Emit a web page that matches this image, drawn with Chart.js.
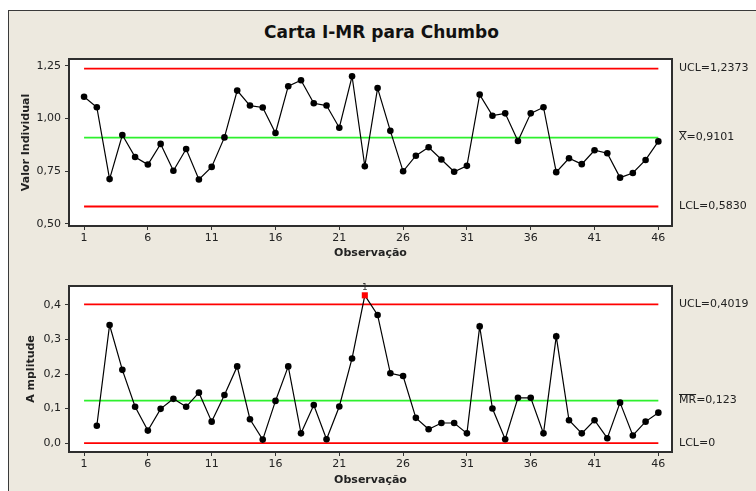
<!DOCTYPE html>
<html>
<head>
<meta charset="utf-8">
<script src="https://cdn.jsdelivr.net/npm/chart.js@4/dist/chart.umd.min.js"></script>
<style>
  html, body { margin: 0; padding: 0; background: #fff; width: 756px; height: 491px; overflow: hidden; }
  #moldura { position: absolute; left: 8px; top: 10px; right: 0; bottom: 0;
             background: rgb(237, 233, 223); border-top: 1px solid #3a3a3a; border-left: 1px solid #3a3a3a; }
  #titulo { position: absolute; left: 0; top: 22px; width: 763px; text-align: center;
            font: bold 17px "DejaVu Sans"; line-height: 20px; color: #111; }
  canvas { position: absolute; left: 0; }
</style>
</head>
<body>
<div id="moldura"></div>
<div id="titulo">Carta I-MR para Chumbo</div>
<canvas id="cartaI" width="756" height="262" style="top:0"></canvas>
<canvas id="cartaMR" width="756" height="229" style="top:262px"></canvas>
<script>
// Observações (teor de chumbo) e amplitudes móveis
const observacoes = Array.from({ length: 46 }, (_, i) => i + 1);

const valorIndividual = [
  1.104, 1.054, 0.713, 0.922, 0.818, 0.782, 0.880, 0.753, 0.856, 0.711,
  0.771, 0.911, 1.133, 1.062, 1.053, 0.932, 1.154, 1.182, 1.073, 1.062,
  0.957, 1.201, 0.774, 1.145, 0.942, 0.750, 0.824, 0.864, 0.806, 0.748,
  0.776, 1.114, 1.014, 1.025, 0.894, 1.025, 1.054, 0.746, 0.812, 0.784,
  0.850, 0.836, 0.720, 0.742, 0.804, 0.892
];

const amplitudeMovel = [
  null, 0.050, 0.342, 0.212, 0.105, 0.036, 0.099, 0.128, 0.105, 0.146,
  0.062, 0.139, 0.222, 0.069, 0.010, 0.122, 0.222, 0.028, 0.110, 0.011,
  0.106, 0.245, 0.428, 0.371, 0.202, 0.194, 0.073, 0.040, 0.058, 0.058,
  0.028, 0.338, 0.100, 0.011, 0.131, 0.131, 0.028, 0.309, 0.066, 0.028,
  0.066, 0.014, 0.117, 0.022, 0.062, 0.088
];

// Limites de controle: [UCL, linha central, LCL]
const limitesI = [1.2373, 0.9101, 0.5830];
const casasI = [4, 4, 4];
const limitesMR = [0.4019, 0.123, 0];
const casasMR = [4, 3, 0];

// Observações que falharam no teste 1
const pontosFora = [23];
const testeFalhou = ['1'];

// Marcas dos eixos
const ticksX = [1, 6, 11, 16, 21, 26, 31, 36, 41, 46];
const ticksI = [0.50, 0.75, 1.00, 1.25];
const rotulosI = ['0,50', '0,75', '1,00', '1,25'];
const ticksMR = [0, 0.1, 0.2, 0.3, 0.4];
const rotulosMR = ['0,0', '0,1', '0,2', '0,3', '0,4'];

const FONTE = '"DejaVu Sans"';
const COR_TEXTO = '#222';
const VERMELHO = 'rgb(255, 0, 0)';
const VERDE = 'rgb(45, 240, 45)';

const fmt = (v, casas) => v.toFixed(casas).replace('.', ',');

function linhaLimite(valor, cor) {
  return {
    data: [{ x: observacoes[0], y: valor }, { x: observacoes[observacoes.length - 1], y: valor }],
    borderColor: cor, borderWidth: 1.8, pointRadius: 0, tension: 0, order: 1
  };
}

// Moldura branca da área de plotagem, rótulos dos limites e marcas de teste
function pluginCarta(rotulos, marcas) {
  return {
    id: 'carta',
    beforeDraw(chart) {
      const a = chart.chartArea, ctx = chart.ctx;
      ctx.save();
      ctx.fillStyle = '#fff';
      ctx.fillRect(a.left, a.top, a.right - a.left, a.bottom - a.top);
      ctx.restore();
    },
    afterDraw(chart) {
      const a = chart.chartArea, ctx = chart.ctx, ys = chart.scales.y, xs = chart.scales.x;
      ctx.save();
      ctx.strokeStyle = '#2e2e2e';
      ctx.lineWidth = 2;
      ctx.strokeRect(a.left, a.top, a.right - a.left, a.bottom - a.top);

      ctx.font = '11px ' + FONTE;
      ctx.fillStyle = COR_TEXTO;
      ctx.textAlign = 'left';
      ctx.textBaseline = 'middle';
      const x0 = a.right + 7;
      rotulos.forEach(r => {
        const y = ys.getPixelForValue(r.valor);
        ctx.fillText(r.texto, x0, y);
        if (r.barra) {
          const w = ctx.measureText(r.barra).width;
          ctx.strokeStyle = COR_TEXTO;
          ctx.lineWidth = 1;
          ctx.beginPath();
          ctx.moveTo(x0, Math.round(y - 7) + 0.5);
          ctx.lineTo(x0 + w, Math.round(y - 7) + 0.5);
          ctx.stroke();
        }
      });

      if (marcas) {
        ctx.font = '9px ' + FONTE;
        ctx.textAlign = 'center';
        ctx.textBaseline = 'alphabetic';
        ctx.fillStyle = '#333';
        marcas.forEach(m => {
          ctx.fillText(m.texto, xs.getPixelForValue(m.x), ys.getPixelForValue(m.y) - 5.5);
        });
      }
      ctx.restore();
    }
  };
}

function escalas(cfg) {
  return {
    x: {
      type: 'linear', min: -0.18, max: 47.07, bounds: 'data',
      afterBuildTicks: s => { s.ticks = ticksX.map(v => ({ value: v })); },
      afterFit: s => { s.height = cfg.altX; },
      grid: { display: true, drawOnChartArea: false, drawTicks: true, tickLength: 4, tickColor: '#333', tickWidth: 1 },
      border: { display: false },
      ticks: { font: { family: FONTE, size: 11 }, color: COR_TEXTO, padding: 2, maxRotation: 0, autoSkip: false,
               callback: v => String(v) },
      title: { display: true, text: 'Observação', color: COR_TEXTO,
               font: { family: FONTE, size: 11, weight: 'bold' }, padding: { top: 0, bottom: cfg.padTituloX } }
    },
    y: {
      type: 'linear', min: cfg.min, max: cfg.max, bounds: 'data',
      afterBuildTicks: s => { s.ticks = cfg.ticks.map(v => ({ value: v })); },
      afterFit: s => { s.width = cfg.largY; },
      grid: { display: true, drawOnChartArea: false, drawTicks: true, tickLength: 4, tickColor: '#333', tickWidth: 1 },
      border: { display: false },
      ticks: { font: { family: FONTE, size: 11 }, color: COR_TEXTO, padding: 4,
               callback: (v, i) => cfg.rotulos[i] },
      title: { display: true, text: cfg.tituloY, color: COR_TEXTO,
               font: { family: FONTE, size: 11, weight: 'bold' }, padding: { top: 4, bottom: 0 } }
    }
  };
}

const opcoesBase = {
  responsive: false, animation: false, devicePixelRatio: 1, events: [],
  plugins: { legend: { display: false }, tooltip: { enabled: false }, title: { display: false } }
};

// Carta de valores individuais
new Chart(document.getElementById('cartaI'), {
  type: 'line',
  data: {
    datasets: [
      {
        data: observacoes.map((o, i) => ({ x: o, y: valorIndividual[i] })),
        borderColor: '#000', borderWidth: 1.2, tension: 0, order: 0,
        pointRadius: 3.3, pointBackgroundColor: '#000', pointBorderWidth: 0
      },
      linhaLimite(limitesI[0], VERMELHO),
      linhaLimite(limitesI[1], VERDE),
      linhaLimite(limitesI[2], VERMELHO)
    ]
  },
  options: Object.assign({}, opcoesBase, {
    layout: { padding: { top: 59, left: 16, right: 84, bottom: 0 } },
    scales: escalas({ min: 0.4905, max: 1.283, ticks: ticksI, rotulos: rotulosI, tituloY: 'Valor Individual',
                      largY: 53, altX: 36, padTituloX: 2 })
  }),
  plugins: [pluginCarta([
    { valor: limitesI[0], texto: 'UCL=' + fmt(limitesI[0], casasI[0]) },
    { valor: limitesI[1], texto: 'X=' + fmt(limitesI[1], casasI[1]), barra: 'X' },
    { valor: limitesI[2], texto: 'LCL=' + fmt(limitesI[2], casasI[2]) }
  ], null)]
});

// Carta de amplitude móvel
const pontosMR = observacoes
  .map((o, i) => ({ x: o, y: amplitudeMovel[i] }))
  .filter(p => p.y !== null);
const foraMR = p => pontosFora.includes(p.x);

new Chart(document.getElementById('cartaMR'), {
  type: 'line',
  data: {
    datasets: [
      {
        data: pontosMR,
        borderColor: '#000', borderWidth: 1.2, tension: 0, order: 0,
        pointStyle: pontosMR.map(p => foraMR(p) ? 'rect' : 'circle'),
        pointRadius: pontosMR.map(p => foraMR(p) ? 4.3 : 3.3),
        pointBackgroundColor: pontosMR.map(p => foraMR(p) ? VERMELHO : '#000'),
        pointBorderWidth: 0
      },
      linhaLimite(limitesMR[0], VERMELHO),
      linhaLimite(limitesMR[1], VERDE),
      linhaLimite(limitesMR[2], VERMELHO)
    ]
  },
  options: Object.assign({}, opcoesBase, {
    layout: { padding: { top: 24, left: 21, right: 84, bottom: 0 } },
    scales: escalas({ min: -0.026, max: 0.455, ticks: ticksMR, rotulos: rotulosMR, tituloY: 'A mplitude',
                      largY: 48, altX: 39, padTituloX: 4 })
  }),
  plugins: [pluginCarta([
    { valor: limitesMR[0], texto: 'UCL=' + fmt(limitesMR[0], casasMR[0]) },
    { valor: limitesMR[1], texto: 'MR=' + fmt(limitesMR[1], casasMR[1]), barra: 'MR' },
    { valor: limitesMR[2], texto: 'LCL=' + fmt(limitesMR[2], casasMR[2]) }
  ], pontosFora.map((o, k) => ({ x: o, y: amplitudeMovel[o - 1], texto: testeFalhou[k] })))]
});
</script>
</body>
</html>
